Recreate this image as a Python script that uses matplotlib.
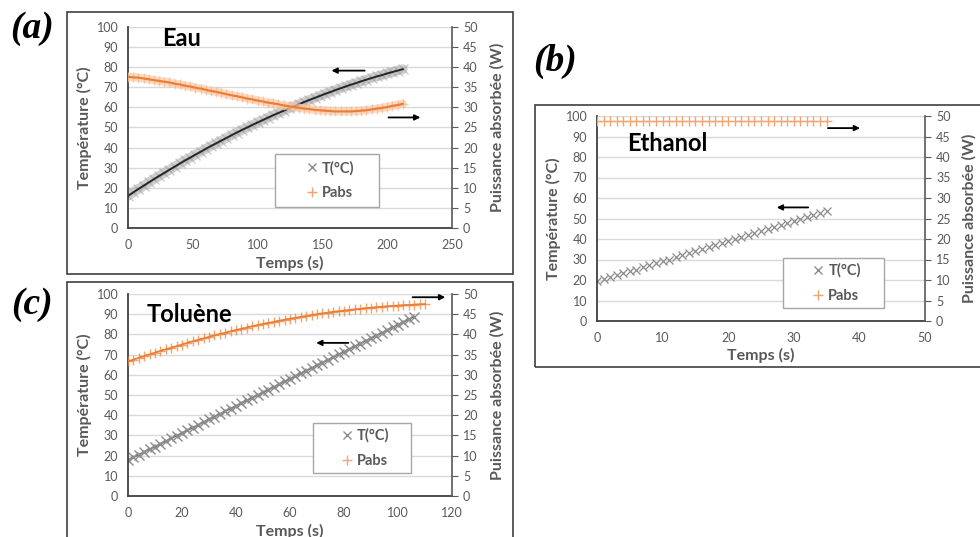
import numpy as np
import matplotlib
matplotlib.use("Agg")
import matplotlib.pyplot as plt
from matplotlib.patches import Rectangle
from matplotlib.lines import Line2D

plt.rcParams['font.family'] = ['Lato', 'DejaVu Sans']

# ---------------- data ----------------
# (a) Eau
t_eau = np.arange(0, 213, 4)
T_eau = [16.0, 17.7, 19.4, 21.0, 22.7, 24.3, 25.9, 27.4, 29.0, 30.5, 32.1, 33.6, 35.0, 36.5,
         37.9, 39.4, 40.8, 42.1, 43.5, 44.8, 46.2, 47.5, 48.8, 50.0, 51.3, 52.5, 53.7, 54.9,
         56.1, 57.2, 58.3, 59.5, 60.5, 61.6, 62.7, 63.7, 64.7, 65.7, 66.7, 67.6, 68.6, 69.5,
         70.4, 71.3, 72.1, 73.0, 73.8, 74.6, 75.4, 76.1, 76.9, 77.6, 78.3, 79.0]
P_eau = [37.6, 37.5, 37.4, 37.2, 37.0, 36.8, 36.6, 36.4, 36.2, 35.9, 35.7, 35.4, 35.2, 34.9,
         34.7, 34.4, 34.1, 33.9, 33.6, 33.3, 33.0, 32.8, 32.5, 32.2, 32.0, 31.7, 31.5, 31.2,
         31.0, 30.8, 30.5, 30.3, 30.1, 29.9, 29.7, 29.6, 29.4, 29.3, 29.2, 29.1, 29.0, 29.0,
         29.0, 29.0, 29.1, 29.2, 29.3, 29.5, 29.7, 29.9, 30.1, 30.4, 30.6, 30.9]

# (b) Ethanol
t_eth = np.arange(0, 36, 1)
T_eth = [19.3, 20.3, 21.3, 22.3, 23.2, 24.2, 25.1, 26.1, 27.1, 28.1,
         29.1, 30.0, 31.0, 32.0, 33.0, 34.0, 35.0, 36.0, 37.0, 38.1,
         39.1, 40.0, 41.0, 42.0, 43.0, 44.0, 45.0, 46.0, 46.9, 47.8,
         48.7, 49.7, 50.7, 51.7, 52.8, 53.9]
P_eth = [48.9, 48.9, 48.9, 48.9, 48.9, 48.9, 48.9, 48.9, 48.9, 48.9,
         48.9, 48.9, 48.9, 48.9, 48.9, 48.9, 48.9, 48.9, 48.9, 48.9,
         48.9, 48.9, 48.9, 48.9, 48.9, 48.9, 48.9, 48.9, 48.9, 48.9,
         48.9, 48.9, 48.9, 48.9, 48.9, 48.9]

# (c) Toluène
t_tol_T = np.arange(0, 107, 2)
T_tol = [17.8, 19.1, 20.5, 21.8, 23.2, 24.5, 25.8, 27.2, 28.5, 29.9, 31.2, 32.5, 33.9, 35.2,
         36.6, 37.9, 39.2, 40.6, 41.9, 43.3, 44.6, 45.9, 47.3, 48.6, 50.0, 51.3, 52.6, 54.0,
         55.3, 56.7, 58.0, 59.3, 60.7, 62.0, 63.4, 64.7, 66.0, 67.4, 68.7, 70.1, 71.4, 72.7,
         74.1, 75.4, 76.8, 78.1, 79.4, 80.8, 82.1, 83.5, 84.8, 86.1, 87.5, 88.8]
t_tol_P = np.arange(0, 111, 2)
P_tol = [33.3, 33.75, 34.2, 34.6, 35.05, 35.5, 35.9, 36.3, 36.7, 37.1, 37.5, 37.9, 38.3, 38.65,
         39.0, 39.4, 39.75, 40.1, 40.4, 40.75, 41.1, 41.4, 41.7, 42.0, 42.3, 42.6, 42.85, 43.1,
         43.4, 43.65, 43.9, 44.1, 44.35, 44.55, 44.8, 45.0, 45.2, 45.4, 45.6, 45.75, 45.9, 46.05,
         46.2, 46.35, 46.5, 46.6, 46.75, 46.85, 46.95, 47.05, 47.15, 47.25, 47.3, 47.4, 47.45, 47.5]

x_ticks_a = [0, 50, 100, 150, 200, 250]
x_ticks_b = [0, 10, 20, 30, 40, 50]
x_ticks_c = [0, 20, 40, 60, 80, 100, 120]
T_ticks = list(range(0, 101, 10))
P_ticks = list(range(0, 51, 5))

GREY_T = '#8c8c8c'
ORANGE = '#ED7D31'
TXT = '#595959'

W, H = 980, 537
fig = plt.figure(figsize=(W / 100, H / 100), dpi=100)


def fx(px):
    return px / W


def fy(py):
    return 1 - py / H


def box(x0, y0, x1, y1):
    r = Rectangle((fx(x0), fy(y1)), fx(x1) - fx(x0), fy(y0) - fy(y1),
                  transform=fig.transFigure, fill=False, edgecolor='#404040', lw=1.2)
    fig.patches.append(r)


def make_axes(x0, y0, x1, y1, xticks, title, title_pos, title_size, leg_px,
              ylab_x, ylab2_x, xlab_y):
    ax = fig.add_axes([fx(x0), fy(y1), fx(x1) - fx(x0), fy(y0) - fy(y1)])
    ax.set_xlim(xticks[0], xticks[-1])
    ax.set_ylim(0, 100)
    ax.set_xticks(xticks)
    ax.set_yticks(T_ticks)
    ax.grid(axis='y', color='#d9d9d9', lw=1)
    ax.set_axisbelow(True)
    for s in ['top', 'right']:
        ax.spines[s].set_visible(False)
    for s in ['left', 'bottom']:
        ax.spines[s].set_color('#404040')
        ax.spines[s].set_linewidth(1.3)
    ax.tick_params(axis='y', length=0, pad=7, labelsize=9, labelcolor=TXT)
    ax.tick_params(axis='x', length=0, pad=8, labelsize=9, labelcolor=TXT)
    ax2 = ax.twinx()
    ax2.set_ylim(0, 50)
    ax2.set_yticks(P_ticks)
    for s in ['top', 'left', 'bottom']:
        ax2.spines[s].set_visible(False)
    ax2.spines['right'].set_color('#595959')
    ax2.spines['right'].set_linewidth(1.2)
    ax2.tick_params(axis='y', length=4, direction='out', color='#595959', pad=4,
                    labelsize=9, labelcolor=TXT)
    ax.text(title_pos[0], title_pos[1], title, transform=ax.transAxes, ha='left', va='center',
            fontsize=title_size, fontweight='bold', color='black')
    ax.text(ylab_x, 0.5, 'Température (°C)', transform=ax.transAxes, rotation=90,
            ha='center', va='center', fontsize=11.5, fontweight='bold', color=TXT)
    ax.text(ylab2_x, 0.5, 'Puissance absorbée (W)', transform=ax.transAxes, rotation=90,
            ha='center', va='center', fontsize=11.5, fontweight='bold', color=TXT)
    ax.text(0.5, xlab_y, 'Temps (s)', transform=ax.transAxes,
            ha='center', va='center', fontsize=11.5, fontweight='bold', color=TXT)
    # legend frame drawn as a figure rectangle, entries centred inside
    lx0, ly0, lx1, ly1 = leg_px
    frame = Rectangle((fx(lx0), fy(ly1)), fx(lx1) - fx(lx0), fy(ly0) - fy(ly1),
                      transform=fig.transFigure, facecolor='white', edgecolor='#a6a6a6',
                      lw=1.0, zorder=5)
    ax2.add_patch(frame)
    handles = [Line2D([], [], ls='none', marker='x', color=GREY_T, ms=6, mew=1),
               Line2D([], [], ls='none', marker='+', color=ORANGE, ms=7, mew=1, alpha=0.7)]
    leg = ax2.legend(handles, ['T(°C)', 'Pabs'], loc='center',
                     bbox_to_anchor=(fx((lx0 + lx1) / 2 + 3), fy((ly0 + ly1) / 2)),
                     bbox_transform=fig.transFigure, frameon=False,
                     prop={'weight': 'bold', 'size': 10.5},
                     labelspacing=0.75, handlelength=0.8, handletextpad=0.3,
                     borderpad=0.2, borderaxespad=0)
    leg.set_zorder(6)
    for txt in leg.get_texts():
        txt.set_color(TXT)
    return ax, ax2


def arrow(ax, x_from, x_to, y):
    ax.annotate('', xy=(x_to, y), xytext=(x_from, y),
                arrowprops=dict(arrowstyle='-|>', color='black', lw=1.3,
                                mutation_scale=8, shrinkA=0, shrinkB=0))


# boxes
box(67, 12, 513, 274)
box(67, 282, 513, 545)
box(535, 105, 990, 367)

# panel labels
lab = dict(fontsize=27, fontweight='bold', fontstyle='italic', family='Liberation Serif',
           ha='center', va='center')
fig.text(fx(32), fy(29), '(a)', **lab)
fig.text(fx(555), fy(61), '(b)', **lab)
fig.text(fx(32), fy(304), '(c)', **lab)

# (a) Eau
axa, axa2 = make_axes(128, 27, 452, 228, x_ticks_a, 'Eau', (0.105, 0.945), 17,
                      (275, 154, 379, 207), -0.135, 1.14, -0.174)
axa.plot(t_eau, T_eau, color='#b0b0b0', lw=7, alpha=0.6, solid_capstyle='round')
axa.plot(t_eau, T_eau, ls='none', marker='x', color='#a0a0a0', ms=7, mew=1.0, alpha=0.5)
axa.plot(t_eau, T_eau, color='#262626', lw=1.4)
axa2.plot(t_eau, P_eau, color='#F8CBAD', lw=6, alpha=0.7, solid_capstyle='round')
axa2.plot(t_eau, P_eau, ls='none', marker='+', color='#F4B183', ms=7, mew=1, alpha=0.6)
axa2.plot(t_eau, P_eau, color=ORANGE, lw=1.5)
arrow(axa, 182.6, 157, 78.3)
arrow(axa, 201, 225.6, 55)

# (b) Ethanol
axb, axb2 = make_axes(597, 116, 925, 321, x_ticks_b, 'Ethanol', (0.091, 0.868), 17,
                      (783, 258, 884, 308), -0.133, 1.135, -0.17)
axb.plot(t_eth, T_eth, ls='none', marker='x', color=GREY_T, ms=6, mew=0.9)
axb2.plot(t_eth, P_eth, ls='none', marker='+', color='#F4A46E', ms=7, mew=1)
arrow(axb, 32.2, 27.4, 55.4)
arrow(axb, 35.2, 40.1, 94.1)

# (c) Toluène
axc, axc2 = make_axes(128, 294, 452, 496, x_ticks_c, 'Toluène', (0.059, 0.897), 17,
                      (313, 423, 411, 473), -0.135, 1.14, -0.175)
axc.plot(t_tol_T, T_tol, color='#6f6f6f', lw=1.2)
axc.plot(t_tol_T, T_tol, ls='none', marker='x', color='#8c8c8c', ms=6.5, mew=1)
axc2.plot(t_tol_P, P_tol, color=ORANGE, lw=1.2)
axc2.plot(t_tol_P, P_tol, ls='none', marker='+', color=ORANGE, ms=7, mew=1, alpha=0.7)
arrow(axc, 81.6, 69.7, 75.8)
arrow(axc, 105.4, 117.5, 98.4)

fig.savefig('out.png', dpi=100)
